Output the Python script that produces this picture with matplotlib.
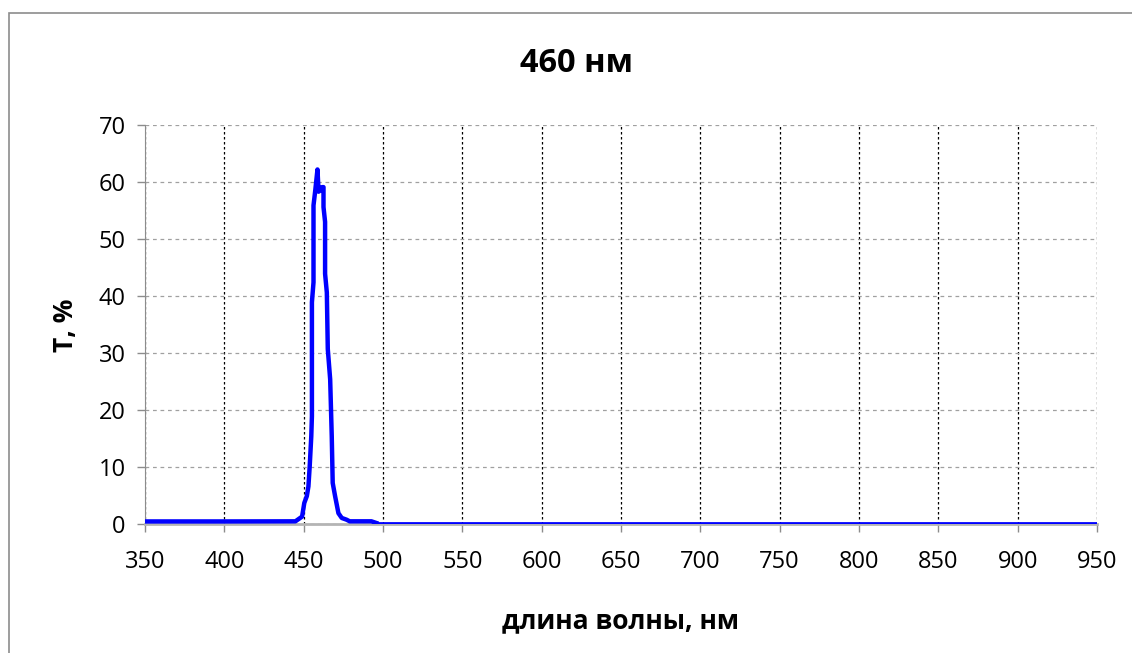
import matplotlib
matplotlib.use("Agg")
import matplotlib.pyplot as plt
from matplotlib.patches import Rectangle

plt.rcParams['font.family'] = ['Open Sans', 'DejaVu Sans']

# Main (thick) segment: 350-496 nm
wl_a = [350, 400, 444.8, 449, 450.4, 452, 453, 453.8, 454.8, 455.2, 455.2, 456.2,
        456.2, 457.3, 458.7, 459.4, 460.4, 461.5, 462.5, 462.5, 463.5, 463.5,
        464.6, 465.2, 466.7, 467.7, 468.3, 469.8, 471.9, 474, 477, 479, 492.7, 495.8]
t_a = [0.45, 0.45, 0.47, 1.3, 3.7, 4.9, 6.6, 10.1, 15.4, 18.9, 38.9, 42.4,
       55.9, 58.5, 62.2, 58.3, 58.5, 59.1, 59.1, 55.6, 53.0, 43.9,
       40.6, 30.7, 25.4, 15.4, 7.2, 4.9, 1.9, 1.06, 0.76, 0.47, 0.47, 0.18]
# Thin tail segment: 496-950 nm
wl_b = [495.8, 600, 700, 800, 900, 950]
t_b = [0.1, 0.1, 0.1, 0.1, 0.1, 0.1]

xticks = list(range(350, 951, 50))
yticks = list(range(0, 71, 10))

fig = plt.figure(figsize=(11.32, 6.53), dpi=100)
fig.patches.append(Rectangle((9 / 1132, -0.2), 1.2, 1.2 - 13 / 653, transform=fig.transFigure,
                             fill=False, edgecolor='#8c8c8c', linewidth=1.2))
ax = fig.add_axes([145 / 1132, 1 - 524 / 653, (1097 - 145) / 1132, (524 - 125) / 653])

ax.plot(wl_a, t_a, color='#0000ff', linewidth=3.2, solid_joinstyle='round', zorder=3)
ax.plot(wl_b, t_b, color='#0000ff', linewidth=2.0, zorder=3)

ax.set_xlim(350, 950)
ax.set_ylim(0, 70)
ax.set_xticks(xticks)
ax.set_yticks(yticks)
ax.tick_params(axis='both', labelsize=17, colors='#8c8c8c', labelcolor='black',
               direction='out', length=6, width=1)
ax.tick_params(axis='x', pad=13)
ax.tick_params(axis='y', pad=8)

for s in ['top', 'right']:
    ax.spines[s].set_visible(False)
ax.spines['left'].set_color('#8c8c8c')
ax.spines['bottom'].set_color('#b4b4b4')
ax.spines['bottom'].set_linewidth(2)

ax.xaxis.grid(True, color='black', linestyle=(0, (2, 2)), linewidth=0.9)
ax.yaxis.grid(True, color='#a0a0a0', linestyle=(0, (3, 3)), linewidth=0.9)
ax.set_axisbelow(True)

fig.text(576 / 1132, 1 - 63 / 653, '460 нм', ha='center', va='center',
         fontsize=23.5, fontweight='bold')
fig.text(620 / 1132, 1 - 621 / 653, 'длина волны, нм', ha='center', va='center',
         fontsize=19, fontweight='bold')
fig.text(65 / 1132, 1 - 325 / 653, 'Т, %', ha='center', va='center',
         fontsize=19, fontweight='bold', rotation=90)

fig.savefig('out.png', dpi=100)
